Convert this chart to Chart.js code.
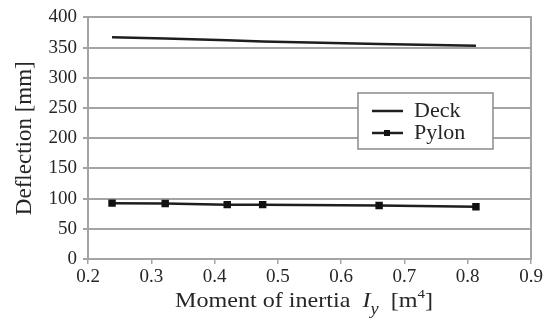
<!DOCTYPE html>
<html>
<head>
<meta charset="utf-8">
<script src="https://cdn.jsdelivr.net/npm/chart.js@4"></script>
<style>
  html, body { margin: 0; padding: 0; background: #fff; }
  #wrap { width: 547px; height: 327px; }
</style>
</head>
<body>
<div id="wrap"><canvas id="chart" width="547" height="327"></canvas></div>
<script>
// data
const inertiaX   = [0.238, 0.322, 0.42, 0.476, 0.66, 0.813];
const deckDefl   = [367, 365, 362, 360, 356, 353];
const pylonDefl  = [92.5, 92, 90, 90, 88.5, 86.5];
const xTicks     = [0.2, 0.3, 0.4, 0.5, 0.6, 0.7, 0.8, 0.9];
const yTicks     = [0, 50, 100, 150, 200, 250, 300, 350, 400];

const SERIF = '"Liberation Serif", "Times New Roman", serif';
const INK   = '#262626';
const GRID  = '#a4a4a4';

// x axis title with italic I, subscript y and superscript 4
// (the original lettering is wide, so it is stretched to span 175..433)
const xTitlePlugin = {
  id: 'xTitle',
  afterDraw(chart) {
    const ctx = chart.ctx;
    const parts = [
      { t: 'Moment of inertia  ', f: '21px ' + SERIF, dy: 0 },
      { t: 'I', f: 'italic 21px ' + SERIF, dy: 0 },
      { t: 'y', f: 'italic 16px ' + SERIF, dy: 7 },
      { t: '  [m', f: '21px ' + SERIF, dy: 0 },
      { t: '4', f: '13px ' + SERIF, dy: -9 },
      { t: ']', f: '21px ' + SERIF, dy: 0 },
    ];
    const left = 175, right = 433, base = 307;
    ctx.save();
    ctx.fillStyle = INK;
    ctx.textBaseline = 'alphabetic';
    let w = 0;
    parts.forEach(p => { ctx.font = p.f; w += ctx.measureText(p.t).width; });
    ctx.translate(left, base);
    ctx.scale((right - left) / w, 1);
    let x = 0;
    parts.forEach(p => {
      ctx.font = p.f;
      ctx.fillText(p.t, x, p.dy);
      x += ctx.measureText(p.t).width;
    });
    ctx.restore();
  }
};

// boxed legend like the original
const boxLegendPlugin = {
  id: 'boxLegend',
  afterDraw(chart) {
    const ctx = chart.ctx;
    const bx = 358, by = 93, bw = 135, bh = 56;
    ctx.save();
    ctx.fillStyle = '#fff';
    ctx.fillRect(bx, by, bw, bh);
    ctx.strokeStyle = '#8a8a8a';
    ctx.lineWidth = 1.5;
    ctx.strokeRect(bx, by, bw, bh);
    ctx.font = '22px ' + SERIF;
    ctx.textBaseline = 'alphabetic';
    chart.data.datasets.forEach((ds, i) => {
      const ly = by + 18 + i * 22;
      ctx.strokeStyle = ds.borderColor;
      ctx.lineWidth = 2.5;
      ctx.beginPath();
      ctx.moveTo(372, ly);
      ctx.lineTo(403, ly);
      ctx.stroke();
      if (ds.pointRadius > 0) {
        ctx.fillStyle = ds.pointBackgroundColor;
        ctx.fillRect(387 - 3, ly - 3, 6, 6);
      }
      ctx.fillStyle = INK;
      ctx.fillText(ds.label, 414, ly + 6);
    });
    ctx.restore();
  }
};

new Chart(document.getElementById('chart'), {
  type: 'line',
  data: {
    datasets: [
      {
        label: 'Deck',
        data: inertiaX.map((x, i) => ({ x, y: deckDefl[i] })),
        borderColor: '#1e1e1e',
        borderWidth: 2.5,
        pointRadius: 0,
        tension: 0,
      },
      {
        label: 'Pylon',
        data: inertiaX.map((x, i) => ({ x, y: pylonDefl[i] })),
        borderColor: '#1e1e1e',
        borderWidth: 2.5,
        pointStyle: 'rect',
        pointRadius: 3.5,
        pointBackgroundColor: '#111',
        pointBorderColor: '#111',
        tension: 0,
      },
    ],
  },
  options: {
    responsive: false,
    animation: false,
    layout: { padding: { top: 14, right: 16, bottom: 0, left: 0 } },
    plugins: {
      legend: { display: false },
      tooltip: { enabled: false },
    },
    scales: {
      x: {
        type: 'linear',
        min: 0.2,
        max: 0.9,
        afterBuildTicks: ax => { ax.ticks = xTicks.map(v => ({ value: v })); },
        afterFit: ax => { ax.height = 68; },
        ticks: {
          color: INK,
          font: { family: SERIF, size: 19 },
          padding: 2,
          maxRotation: 0,
          callback: v => v.toFixed(1),
        },
        grid: { drawOnChartArea: false, color: GRID, lineWidth: 1.5, tickLength: 5 },
        border: { color: GRID, width: 2 },
      },
      y: {
        min: 0,
        max: 400,
        afterBuildTicks: ax => { ax.ticks = yTicks.map(v => ({ value: v })); },
        afterFit: ax => { ax.width = 88; },
        ticks: {
          color: INK,
          font: { family: SERIF, size: 19 },
          padding: 6,
        },
        grid: { color: GRID, lineWidth: 2, tickLength: 5 },
        border: { color: GRID, width: 2 },
        title: {
          display: true,
          text: 'Deflection [mm]',
          color: INK,
          font: { family: SERIF, size: 23 },
          padding: { top: 11, bottom: 0 },
        },
      },
      yRight: {
        position: 'right',
        min: 0,
        max: 400,
        afterFit: ax => { ax.width = 0; },
        ticks: { display: false },
        grid: { display: false },
        border: { color: GRID, width: 2 },
      },
    },
  },
  plugins: [xTitlePlugin, boxLegendPlugin],
});
</script>
</body>
</html>
